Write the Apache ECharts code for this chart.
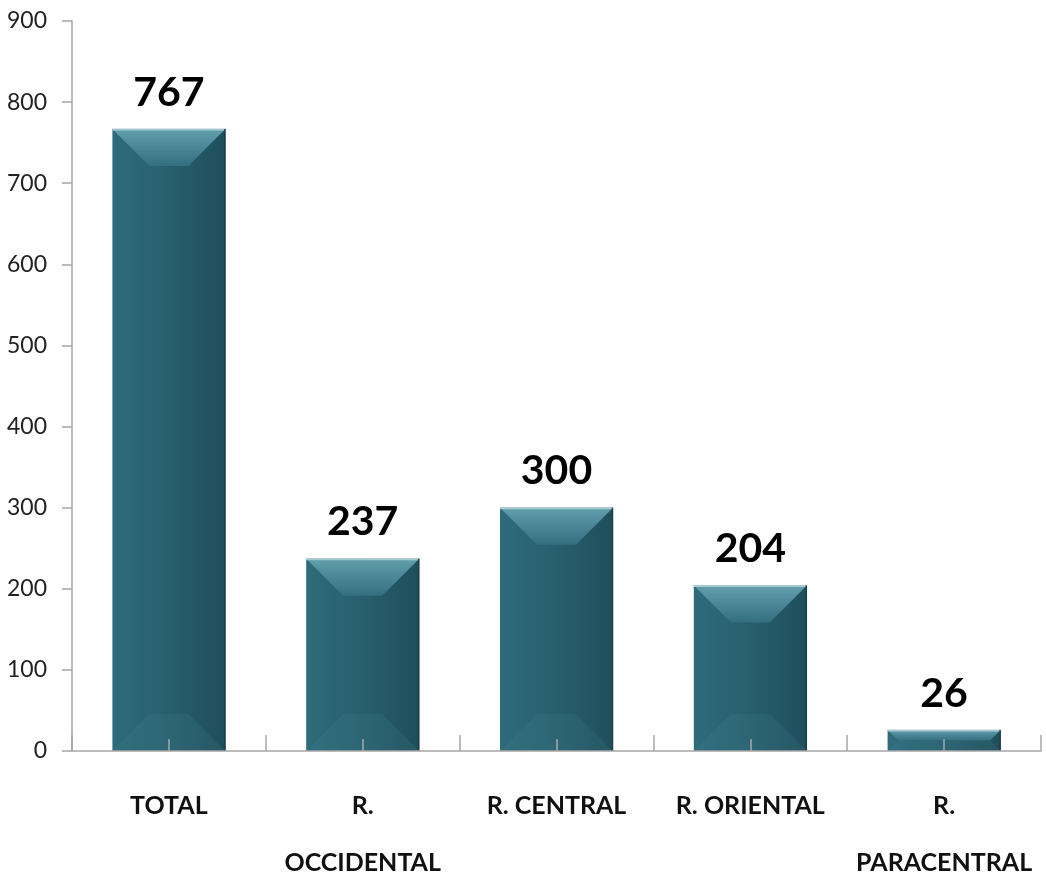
<!DOCTYPE html>
<html>
<head>
<meta charset="utf-8">
<script src="https://cdn.jsdelivr.net/npm/echarts@6/dist/echarts.min.js"></script>
<style>
  html, body { margin: 0; padding: 0; background: #fff; }
  #chart { width: 1046px; height: 881px; }
</style>
</head>
<body>
<div id="chart"></div>
<script>
var categories = ['TOTAL', 'R.\nOCCIDENTAL', 'R. CENTRAL', 'R. ORIENTAL', 'R.\nPARACENTRAL'];
var values = [767, 237, 300, 204, 26];
var yMin = 0, yMax = 900, yStep = 100;

var chart = echarts.init(document.getElementById('chart'));

var barW = 113;

// bevelled top/bottom on each bar
function bevel(params, api) {
  var top = api.coord([api.value(0), api.value(1)]);
  var base = api.coord([api.value(0), 0]);
  var x0 = top[0] - barW / 2, x1 = top[0] + barW / 2;
  var y0 = top[1], y1 = base[1];
  var h = y1 - y0;
  var d = Math.min(37, h / 2, barW / 2);
  return {
    type: 'group',
    children: [
      {
        type: 'polygon',
        shape: { points: [[x0, y1], [x1, y1], [x1 - d, y1 - d], [x0 + d, y1 - d]] },
        style: { fill: 'rgba(80,140,155,0.15)' }
      },
      {
        type: 'polygon',
        shape: { points: [[x0, y0], [x1, y0], [x1 - d, y0 + d], [x0 + d, y0 + d]] },
        style: {
          fill: new echarts.graphic.LinearGradient(0, 0, 0, 1, [
            { offset: 0, color: '#629fad' },
            { offset: 1, color: '#336f7f' }
          ])
        }
      },
      {
        type: 'line',
        shape: { x1: x0, y1: y0 + 0.5, x2: x1, y2: y0 + 0.5 },
        style: { stroke: '#a9c9d0', lineWidth: 2 }
      },
      {
        type: 'line',
        shape: { x1: x1 - 0.5, y1: y0, x2: x1 - 0.5, y2: y1 },
        style: { stroke: '#1b3f49', lineWidth: 1.5 }
      }
    ]
  };
}

var option = {
  animation: false,
  backgroundColor: '#ffffff',
  grid: { left: 72, right: 5, top: 21, bottom: 130, outerBoundsMode: 'none', containLabel: false },
  xAxis: [
    {
      type: 'category',
      data: categories,
      position: 'bottom',
      z: 10,
      axisLine: { lineStyle: { color: '#a6a6a6', width: 1.5 } },
      axisTick: { show: true, inside: true, length: 16, interval: 0, lineStyle: { color: '#a6a6a6', width: 1.5 } },
      axisLabel: {
        interval: 0,
        margin: 26,
        lineHeight: 57,
        fontFamily: 'Lato',
        fontWeight: 'bold',
        fontSize: 25,
        color: '#111111'
      }
    },
    {
      type: 'category',
      data: categories,
      position: 'bottom',
      z: 10,
      axisLine: { show: false },
      axisTick: { show: true, inside: true, length: 12, alignWithLabel: true, interval: 0, lineStyle: { color: '#a6a6a6', width: 1.5 } },
      axisLabel: { show: false }
    }
  ],
  yAxis: {
    type: 'value',
    min: yMin,
    max: yMax,
    interval: yStep,
    axisLine: { show: true, lineStyle: { color: '#a6a6a6', width: 1.5 } },
    axisTick: { show: true, length: 10, lineStyle: { color: '#a6a6a6', width: 1.5 } },
    splitLine: { show: false },
    axisLabel: {
      margin: 25,
      fontFamily: 'Lato',
      fontSize: 23,
      color: '#222222'
    }
  },
  series: [
    {
      type: 'bar',
      data: values,
      barWidth: barW,
      z: 2,
      itemStyle: {
        color: new echarts.graphic.LinearGradient(0, 0, 1, 0, [
          { offset: 0, color: '#2e6b7b' },
          { offset: 0.5, color: '#285f6e' },
          { offset: 1, color: '#1f4e5b' }
        ])
      },
      label: {
        show: true,
        position: 'top',
        distance: 16,
        fontFamily: 'Lato',
        fontWeight: 'bold',
        fontSize: 41,
        color: '#000000'
      }
    },
    {
      type: 'custom',
      z: 3,
      silent: true,
      renderItem: bevel,
      data: values.map(function (v, i) { return [i, v]; })
    }
  ]
};

chart.setOption(option);
</script>
</body>
</html>
